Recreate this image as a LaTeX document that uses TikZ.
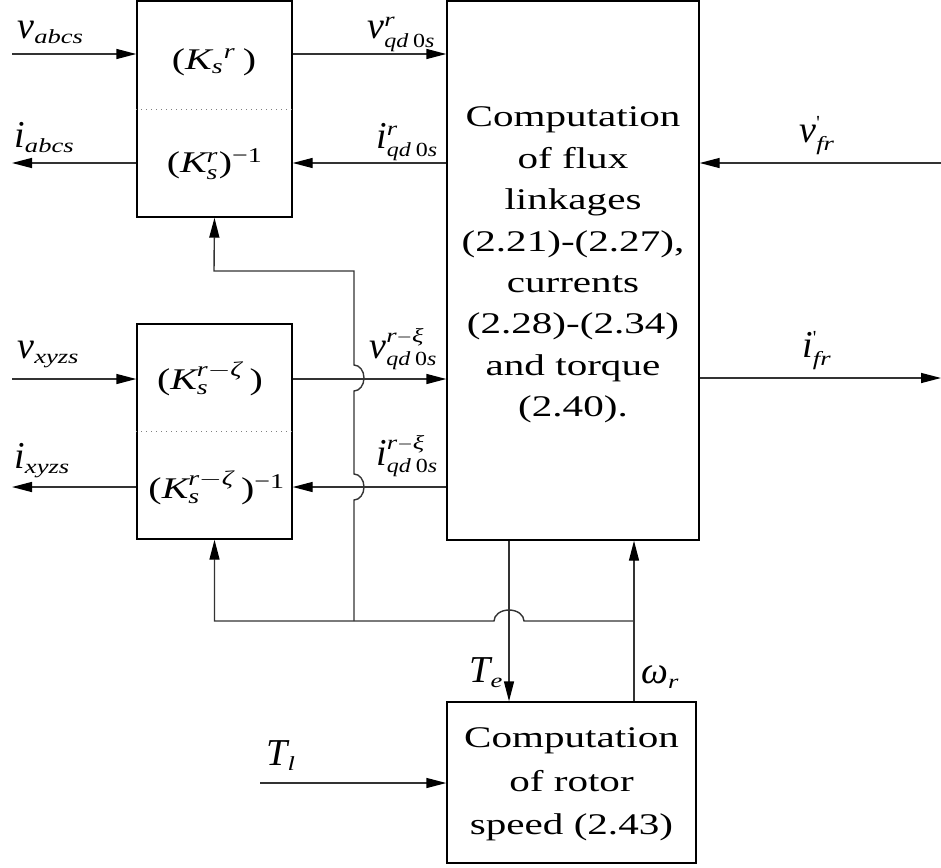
\documentclass[tikz,border=0pt]{standalone}
\usepackage{amsmath}
\usepackage{graphicx}
\usepackage{fontspec}
\setmainfont{Liberation Serif}
\usetikzlibrary{arrows.meta}
\DeclareMathSizes{19}{19}{10}{7}
\DeclareMathSizes{15}{15}{10.5}{8}
\definecolor{linecol}{gray}{0.2}
\definecolor{divcol}{gray}{0.5}
\newcommand{\wide}[2][1.33]{\scalebox{#1}[1]{#2}}
\newcommand{\tmi}[1]{\text{\wide{\itshape #1}}}
\newcommand{\qds}{\text{\wide[1.2]{\itshape qd\hspace{0.2em}\upshape 0\itshape s}}}
\tikzset{
  blk/.style={draw,rectangle,line width=0.7pt,inner sep=0pt,align=center},
  bigtxt/.style={font=\fontsize{15}{20.7}\selectfont},
  ktxt/.style={font=\fontsize{15}{18}\selectfont,inner sep=0pt},
  lab/.style={font=\fontsize{19}{20}\selectfont,inner sep=0pt,anchor=base west},
  sig/.style={draw=linecol,line width=0.7pt,-{Triangle[length=10pt,width=5pt,black]}},
  divline/.style={draw=divcol,dotted,line width=0.5pt},
}
\begin{document}
\begin{tikzpicture}[x=0.5pt,y=0.5pt]
  \useasboundingbox (0,0) rectangle (941,-867);
  % blocks
  \node[blk,minimum width=77.5pt,minimum height=108pt] (kabc) at (214.5,-109) {};
  \node[blk,minimum width=77.5pt,minimum height=107.5pt] (kxyz) at (214.5,-431.5) {};
  \node[blk,bigtxt,minimum width=126pt,minimum height=269.5pt] (flux) at (573,-270.5)
    {\raisebox{3.5pt}[\height][\depth]{\wide[1.37]{\begin{tabular}{@{}c@{}}Computation\\of flux\\linkages\\(2.21)-(2.27),\\currents\\(2.28)-(2.34)\\and torque\\(2.40).\end{tabular}}}};
  \node[blk,minimum width=124.5pt,minimum height=80.5pt,font=\fontsize{15}{21.7}\selectfont] (speed) at (571.5,-782.5)
    {\wide[1.37]{\begin{tabular}{@{}c@{}}Computation\\of rotor\\speed (2.43)\end{tabular}}};
  \draw[divline] (kabc.west) -- (kabc.east);
  \draw[divline] (kxyz.west) -- (kxyz.east);
  \node[ktxt] (kabcf) at (214,-62) {\wide{({\itshape K}$_{\text{\itshape s}}{}^{\text{\itshape r}}$\,)}};
  \node[ktxt] (kabci) at (215,-164) {\wide{({\itshape K}$^{\text{\itshape r}}_{\text{\itshape s}}$)$^{\text{\upshape −1}}$}};
  \node[ktxt] (kxyzf) at (210,-379) {\wide{({\itshape K}$^{\text{\itshape r}-\text{\itshape ζ}}_{\text{\itshape s}}$\,)}};
  \node[ktxt] (kxyzi) at (217,-488) {\wide{({\itshape K}$^{\text{\itshape r}-\text{\itshape ζ}}_{\text{\itshape s}}$\,)$^{\text{\upshape −1}}$}};
  % free ends
  \coordinate (vabc) at (12,-54);
  \coordinate (iabc) at (12,-163);
  \coordinate (vfr) at (941,-163);
  \coordinate (vxyz) at (12,-379);
  \coordinate (ixyz) at (12,-487);
  \coordinate (ifr) at (941,-378);
  \coordinate (tl) at (260,-783);
  \coordinate (te) at (509,-621);
  \coordinate (wr) at (634,-621);
  \coordinate (tap) at (354,-621);
  % signals
  \draw[sig] (vabc) -- (vabc -| kabc.west);
  \draw[sig] (iabc -| kabc.west) -- (iabc);
  \draw[sig] (vabc -| kabc.east) -- (vabc -| flux.west);
  \draw[sig] (iabc -| flux.west) -- (iabc -| kabc.east);
  \draw[sig] (vfr) -- (vfr -| flux.east);
  \draw[sig] (vxyz) -- (vxyz -| kxyz.west);
  \draw[sig] (ixyz -| kxyz.west) -- (ixyz);
  \draw[sig] (vxyz -| kxyz.east) -- (vxyz -| flux.west);
  \draw[sig] (ixyz -| flux.west) -- (ixyz -| kxyz.east);
  \draw[sig] (ifr -| flux.east) -- (ifr);
  \draw[sig] (tl) -- (tl -| speed.west);
  \draw[sig] (te |- flux.south) -- (te |- speed.north);
  \draw[sig] (wr |- speed.north) -- (wr |- flux.south);
  % feedback of rotor speed
  \draw[sig] (wr) -- (524,-621) arc[start angle=0,end angle=180,x radius=7.5pt,y radius=5.5pt]
    -- (kxyz.south |- wr) -- (kxyz.south);
  \draw[sig] (tap) -- (354,-500) arc[start angle=-90,end angle=90,x radius=5pt,y radius=6.5pt]
    -- (354,-391) arc[start angle=-90,end angle=90,x radius=5pt,y radius=6.5pt]
    -- (354,-271) -- (214,-271) -- (kabc.south);
  % labels
  \node[lab] (lvabc) at (17,-38) {{\itshape v}$_{\tmi{abcs}}$};
  \node[lab] (liabc) at (14,-147) {{\itshape i}$_{\tmi{abcs}}$};
  \node[lab] (lvqd) at (367,-39) {{\itshape v}$^{\tmi{r}}_{\qds}$};
  \node[lab] (liqd) at (376,-148) {{\itshape i}$^{\tmi{r}}_{\qds}$};
  \node[lab] (lvfr) at (799,-142) {{\itshape v}$^{\text{\textquotesingle}}_{\tmi{fr}}$};
  \node[lab] (lifr) at (802,-357) {{\itshape i}$^{\text{\textquotesingle}}_{\tmi{fr}}$};
  \node[lab] (lvxyz) at (17,-358) {{\itshape v}$_{\tmi{xyzs}}$};
  \node[lab] (lixyz) at (14,-468) {{\itshape i}$_{\tmi{xyzs}}$};
  \node[lab] (lvqdx) at (369,-358) {{\itshape v}$^{\tmi{r}-\tmi{ξ}}_{\qds}$};
  \node[lab] (liqdx) at (376,-465) {{\itshape i}$^{\tmi{r}-\tmi{ξ}}_{\qds}$};
  \node[lab] (lte) at (469,-682) {{\itshape T}$_{\tmi{e}}$};
  \node[lab] (lwr) at (641,-683) {{\itshape ω}$_{\tmi{r}}$};
  \node[lab] (ltl) at (266,-765) {{\itshape T}$_{\tmi{l}}$};
\end{tikzpicture}
\end{document}
